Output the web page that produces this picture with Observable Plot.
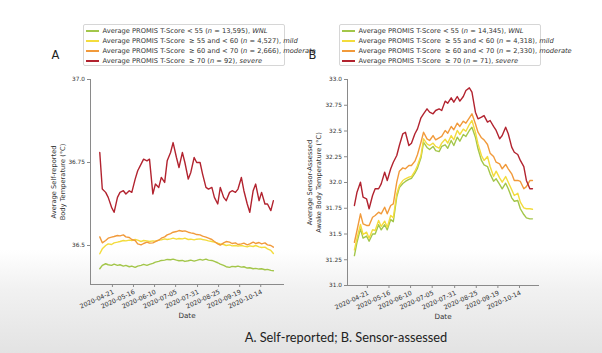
<!DOCTYPE html>
<html><head><meta charset="utf-8">
<script src="https://cdn.jsdelivr.net/npm/d3@7"></script>
<script src="https://cdn.jsdelivr.net/npm/@observablehq/plot@0.6"></script>
<style>
html,body{margin:0;padding:0;}
body{width:602px;height:353px;position:relative;overflow:hidden;
  background:linear-gradient(to bottom,#ffffff 0px,#ffffff 250px,#f1f1f1 290px,#e3e3e3 353px);
  font-family:"DejaVu Sans",sans-serif;}
.panel{position:absolute;top:0;}
.legend{position:absolute;border:1px solid #d6d6d6;border-radius:2px;background:#fff;box-sizing:border-box;
  font-size:6.7px;color:#333;padding-top:1px;}
.legend .row{height:10px;display:flex;align-items:center;white-space:nowrap;}
.legend .sw{width:13px;height:1.5px;margin:0 4px 0 1.5px;flex:none;}
.caption{position:absolute;left:0;width:692px;text-align:center;top:331px;font-family:Lato,"Open Sans",sans-serif;font-size:12.8px;color:#222;line-height:1;}
</style></head>
<body>
<div id="A" class="panel" style="left:0"></div>
<div id="B" class="panel" style="left:300px"></div>
<div id="legA" class="legend" style="left:83px;top:24px;width:202px;height:42px"></div>
<div id="legB" class="legend" style="left:339px;top:24px;width:202px;height:42px"></div>
<div class="caption">A. Self-reported; B. Sensor-assessed</div>
<script>
const dates = ["2020-04-06","2020-04-09","2020-04-13","2020-04-16","2020-04-20","2020-04-23","2020-04-27","2020-04-30",
"2020-05-04","2020-05-07","2020-05-11","2020-05-14","2020-05-18","2020-05-21","2020-05-25","2020-05-28",
"2020-06-01","2020-06-04","2020-06-08","2020-06-11","2020-06-15","2020-06-18","2020-06-22","2020-06-25","2020-06-29",
"2020-07-02","2020-07-06","2020-07-09","2020-07-13","2020-07-16","2020-07-20","2020-07-23","2020-07-27","2020-07-30",
"2020-08-03","2020-08-06","2020-08-10","2020-08-13","2020-08-17","2020-08-20","2020-08-24","2020-08-27","2020-08-31",
"2020-09-03","2020-09-07","2020-09-10","2020-09-14","2020-09-17","2020-09-21","2020-09-24","2020-09-28",
"2020-10-01","2020-10-05","2020-10-08","2020-10-12","2020-10-15","2020-10-19","2020-10-22","2020-10-26","2020-10-29"];

const aGreen = [36.430,36.440,36.445,36.442,36.440,36.444,36.440,36.442,36.438,36.440,36.436,36.438,36.434,36.438,36.440,36.443,
36.440,36.443,36.446,36.450,36.452,36.455,36.456,36.458,36.457,36.459,36.456,36.454,36.455,36.452,36.454,36.456,36.453,36.455,
36.458,36.456,36.459,36.456,36.455,36.452,36.448,36.444,36.440,36.436,36.434,36.437,36.436,36.438,36.435,36.436,36.432,
36.433,36.430,36.431,36.429,36.430,36.427,36.428,36.425,36.424];
const aYellow = [36.475,36.490,36.500,36.505,36.503,36.508,36.510,36.512,36.515,36.514,36.516,36.515,36.518,36.516,36.512,36.515,
36.514,36.512,36.514,36.513,36.516,36.517,36.520,36.518,36.520,36.522,36.519,36.521,36.520,36.522,36.518,36.519,36.517,36.519,
36.520,36.518,36.516,36.514,36.512,36.510,36.507,36.505,36.503,36.500,36.502,36.499,36.500,36.498,36.500,36.498,36.496,
36.499,36.497,36.500,36.496,36.494,36.495,36.490,36.485,36.476];
const aOrange = [36.526,36.508,36.515,36.522,36.525,36.527,36.530,36.529,36.532,36.526,36.524,36.518,36.515,36.505,36.502,36.506,
36.510,36.507,36.508,36.512,36.516,36.522,36.526,36.532,36.536,36.540,36.542,36.545,36.543,36.544,36.540,36.538,36.536,36.533,
36.532,36.528,36.525,36.522,36.518,36.512,36.505,36.501,36.508,36.512,36.510,36.506,36.508,36.503,36.505,36.507,36.502,
36.505,36.510,36.506,36.509,36.505,36.508,36.502,36.500,36.495];
const aRed = [36.78,36.67,36.66,36.645,36.615,36.60,36.645,36.66,36.665,36.655,36.665,36.66,36.70,36.725,36.745,36.76,
36.755,36.76,36.655,36.685,36.675,36.705,36.69,36.755,36.78,36.81,36.765,36.735,36.78,36.75,36.70,36.72,36.765,36.75,
36.75,36.715,36.675,36.67,36.675,36.645,36.625,36.675,36.645,36.635,36.66,36.665,36.66,36.67,36.705,36.665,36.625,
36.60,36.665,36.685,36.635,36.66,36.625,36.625,36.605,36.635];

const bGreen = [31.29,31.42,31.55,31.46,31.48,31.43,31.50,31.50,31.59,31.54,31.59,31.54,31.64,31.62,31.86,31.95,
31.99,32.01,32.03,32.04,32.09,32.14,32.24,32.39,32.34,32.32,32.35,32.31,32.30,32.35,32.366,32.333,32.408,32.359,
32.44,32.401,32.466,32.447,32.505,32.537,32.44,32.327,32.214,32.171,32.155,32.084,32.013,32.036,31.981,31.939,31.993,
31.939,31.851,31.818,31.825,31.745,31.689,31.657,31.647,31.647];
const bYellow = [31.346,31.459,31.592,31.495,31.518,31.459,31.541,31.534,31.631,31.573,31.625,31.566,31.68,31.657,31.89,31.971,
32.019,32.036,32.052,32.058,32.11,32.165,32.262,32.424,32.375,32.359,32.382,32.35,32.333,32.382,32.42,32.382,32.456,32.414,
32.505,32.466,32.518,32.498,32.563,32.602,32.488,32.375,32.262,32.214,32.252,32.155,32.058,32.11,32.045,32.003,32.058,
32.003,31.929,31.874,31.896,31.809,31.754,31.745,31.745,31.74];
const bOrange = [31.42,31.534,31.696,31.599,31.583,31.583,31.663,31.68,31.712,31.696,31.76,31.696,31.777,31.793,32.003,32.11,
32.142,32.133,32.165,32.165,32.207,32.272,32.391,32.488,32.424,32.408,32.456,32.414,32.434,32.447,32.505,32.479,32.544,32.512,
32.576,32.544,32.595,32.576,32.628,32.667,32.57,32.488,32.434,32.414,32.369,32.285,32.252,32.197,32.181,32.133,32.175,
32.133,32.084,32.019,32.02,32.01,31.939,31.96,32.019,32.019];
const bRed = [31.777,31.906,32.003,31.857,31.842,31.745,31.874,31.939,31.939,31.987,32.10,32.019,32.133,32.197,32.262,32.359,
32.473,32.488,32.359,32.382,32.473,32.521,32.628,32.667,32.715,32.683,32.667,32.699,32.715,32.699,32.79,32.77,32.822,32.78,
32.835,32.79,32.835,32.893,32.919,32.877,32.683,32.618,32.634,32.65,32.586,32.602,32.544,32.505,32.424,32.456,32.537,
32.473,32.343,32.294,32.272,32.214,32.155,32.02,31.939,31.939];

const groups = ["WNL","mild","moderate","severe"];
const colors = ["#a3c64a","#f3dc3d","#f19a3b","#b2232f"];
const ranges = ["< 55","\u00a0\u2265\u00a055 and < 60","\u00a0\u2265\u00a060 and < 70","\u00a0\u2265\u00a070"];
const nA = ["13,595","4,527","2,666","92"];
const nB = ["14,345","4,318","2,330","71"];
const xTicks = ["2020-04-21","2020-05-16","2020-06-10","2020-07-05","2020-07-31","2020-08-25","2020-09-19","2020-10-14"];
const aYTicks = [36.5,36.75,37.0];
const aYLabels = ["36.5","36.75","37.0"];
const bYTicks = [31.0,31.25,31.5,31.75,32.0,32.25,32.5,32.75,33.0];
const bYLabels = ["31.0","31.25","31.5","31.75","32.0","32.25","32.5","32.75","33.0"];
const aTitle = "Average Self-reported\nBody Temperature (\u00b0C)";
const bTitle = "Average Sensor-Assessed\nAwake Body Temperature (\u00b0C)";

function rows(seriesList) {
  const out = [];
  seriesList.forEach((arr, g) => arr.forEach((v, i) => out.push({date: new Date(dates[i]), value: v, group: groups[g]})));
  return out;
}

function makePanel(cfg) {
  const axisColor = "#8a8a8a";
  const tickDates = xTicks.map(d => new Date(d));
  return Plot.plot({
    width: cfg.width, height: 335,
    marginLeft: cfg.ml, marginRight: cfg.mr, marginTop: 79, marginBottom: cfg.mb,
    style: {background: "transparent", fontFamily: "DejaVu Sans, sans-serif", color: "#333"},
    x: {type: "utc", domain: cfg.xDomain},
    y: {domain: cfg.yDomain},
    color: {domain: groups, range: colors},
    marks: [
      Plot.frame({anchor: "left", stroke: axisColor}),
      Plot.frame({anchor: "bottom", stroke: axisColor}),
      Plot.axisY({ticks: cfg.yTicks, tickFormat: d => cfg.yLabels[cfg.yTicks.indexOf(d)], tickSize: 3, tickPadding: 2.5,
                  fontSize: 5.8, stroke: axisColor, fill: "#333", label: null}),
      Plot.axisX({ticks: tickDates, tickFormat: () => "", tickSize: 3, stroke: axisColor, label: null}),
      Plot.text(tickDates, {x: d => d, frameAnchor: "bottom", dy: 7, dx: 1, rotate: -25, textAnchor: "end",
                  lineAnchor: "middle", text: d3.utcFormat("%Y-%m-%d"), fontSize: 6.3, fill: "#333"}),
      Plot.line(rows(cfg.series), {x: "date", y: "value", z: "group", stroke: "group", strokeWidth: 1.4}),
      Plot.text([cfg.title], {frameAnchor: "left", dx: cfg.titleDx, rotate: -90, textAnchor: "middle",
                  fontSize: 6.7, lineHeight: 1.45, fill: "#333"}),
      Plot.text(["Date"], {frameAnchor: "bottom", dy: 33, fontSize: 7.2, fill: "#333"}),
      Plot.text([cfg.tag], {frameAnchor: "top-left", dx: cfg.tagDx, dy: -24, textAnchor: "middle", lineAnchor: "middle",
                  fontSize: 11.5, fill: "#222"})
    ]
  });
}

document.getElementById("A").append(makePanel({
  width: 300, ml: 90, mr: 17, mb: 51,
  xDomain: [new Date("2020-03-26"), new Date("2020-11-10")],
  yDomain: [36.3825, 37.0], yTicks: aYTicks, yLabels: aYLabels,
  series: [aGreen, aYellow, aOrange, aRed], title: aTitle, titleDx: -33, tag: "A", tagDx: -35
}));
document.getElementById("B").append(makePanel({
  width: 302, ml: 47, mr: 64, mb: 50,
  xDomain: [new Date("2020-03-29"), new Date("2020-11-05")],
  yDomain: [31.0, 33.0], yTicks: bYTicks, yLabels: bYLabels,
  series: [bGreen, bYellow, bOrange, bRed], title: bTitle, titleDx: -34, tag: "B", tagDx: -35
}));

function legend(id, ns) {
  const el = document.getElementById(id);
  groups.forEach((g, i) => {
    const row = document.createElement("div"); row.className = "row";
    const sw = document.createElement("span"); sw.className = "sw"; sw.style.background = colors[i];
    const t = document.createElement("span");
    t.append("Average PROMIS T-Score " + ranges[i] + " (");
    const n = document.createElement("i"); n.textContent = "n"; t.append(n);
    t.append(" = " + ns[i] + "), ");
    const s = document.createElement("i"); s.textContent = g; t.append(s);
    row.append(sw, t); el.append(row);
  });
}
legend("legA", nA);
legend("legB", nB);
</script>
</body></html>
